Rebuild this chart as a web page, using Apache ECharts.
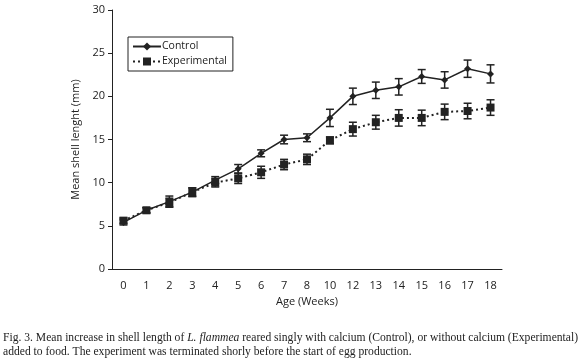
<!DOCTYPE html>
<html>
<head>
<meta charset="utf-8">
<script src="https://cdn.jsdelivr.net/npm/echarts@6/dist/echarts.min.js"></script>
<style>
  html, body { margin: 0; padding: 0; background: #fff; }
  #main { width: 580px; height: 361px; }
</style>
</head>
<body>
<div id="main"></div>
<script>
var weeks = ['0', '1', '2', '3', '4', '5', '6', '7', '8', '10', '12', '13', '14', '15', '16', '17', '18'];
var controlMean = [5.4, 6.8, 7.8, 8.9, 10.3, 11.6, 13.4, 15.0, 15.2, 17.5, 20.0, 20.7, 21.1, 22.3, 21.9, 23.2, 22.6];
var controlErr = [0.3, 0.3, 0.65, 0.5, 0.4, 0.5, 0.4, 0.5, 0.45, 1.0, 0.95, 0.95, 0.95, 0.8, 0.95, 1.0, 1.05];
var expMean = [5.6, 6.8, 7.7, 8.9, 10.0, 10.5, 11.2, 12.1, 12.7, 14.9, 16.2, 17.0, 17.5, 17.5, 18.2, 18.3, 18.7];
var expErr = [0.3, 0.3, 0.5, 0.5, 0.5, 0.6, 0.7, 0.6, 0.6, 0.4, 0.8, 0.8, 0.95, 0.9, 0.9, 0.9, 0.9];

var ink = '#222';

function errData(mean, err) {
    return mean.map(function (m, i) { return [i, m - err[i], m + err[i]]; });
}

function errRender(params, api) {
    var lo = api.coord([api.value(0), api.value(1)]);
    var hi = api.coord([api.value(0), api.value(2)]);
    var w = 4;
    var st = { stroke: ink, lineWidth: 1.5 };
    return {
        type: 'group',
        children: [
            { type: 'line', shape: { x1: lo[0], y1: lo[1], x2: hi[0], y2: hi[1] }, style: st },
            { type: 'line', shape: { x1: lo[0] - w, y1: lo[1], x2: lo[0] + w, y2: lo[1] }, style: st },
            { type: 'line', shape: { x1: hi[0] - w, y1: hi[1], x2: hi[0] + w, y2: hi[1] }, style: st }
        ]
    };
}

var myChart = echarts.init(document.getElementById('main'));

var option = {
    animation: false,
    textStyle: { fontFamily: 'Open Sans' },
    grid: { left: 112, right: 78, top: 10, bottom: 92 },
    legend: {
        orient: 'vertical',
        left: 128, top: 37,
        itemGap: 4,
        itemWidth: 28, itemHeight: 10,
        padding: [4, 6, 4, 4],
        borderColor: ink, borderWidth: 1,
        textStyle: { color: ink, fontSize: 10.5, padding: [0, 0, 0, -4] },
        data: ['Control', 'Experimental']
    },
    xAxis: {
        type: 'category',
        data: weeks,
        name: 'Age (Weeks)',
        nameLocation: 'middle',
        nameGap: 27,
        nameTextStyle: { color: ink, fontSize: 11 },
        axisLine: { lineStyle: { color: ink, width: 1 } },
        axisTick: { alignWithLabel: false, length: 4, lineStyle: { color: ink } },
        axisLabel: { color: ink, fontSize: 11, margin: 11 }
    },
    yAxis: {
        type: 'value',
        min: 0, max: 30, interval: 5,
        name: 'Mean shell lenght (mm)',
        nameLocation: 'middle',
        nameGap: 23,
        nameTextStyle: { color: ink, fontSize: 11 },
        splitLine: { show: false },
        axisLine: { show: true, lineStyle: { color: ink, width: 1 } },
        axisTick: { show: true, length: 4, lineStyle: { color: ink } },
        axisLabel: { color: ink, fontSize: 11, margin: 7 }
    },
    series: [
        {
            name: 'Control', type: 'line', data: controlMean,
            symbol: 'diamond', symbolSize: 7,
            itemStyle: { color: ink },
            lineStyle: { color: ink, width: 1.5 },
            z: 3
        },
        {
            name: 'Experimental', type: 'line', data: expMean,
            symbol: 'rect', symbolSize: 8,
            itemStyle: { color: ink },
            lineStyle: { color: ink, width: 2, type: [2, 3] },
            z: 3
        },
        { type: 'custom', renderItem: errRender, data: errData(controlMean, controlErr), z: 2, silent: true },
        { type: 'custom', renderItem: errRender, data: errData(expMean, expErr), z: 2, silent: true }
    ],
    graphic: [
        {
            type: 'text', left: 3, top: 331,
            style: {
                text: 'Fig. 3. Mean increase in shell length of {i|L. flammea} reared singly with calcium (Control), or without calcium (Experimental)\nadded to food. The experiment was terminated shorly before the start of egg production.',
                fontFamily: 'Liberation Serif', fontSize: 11.6, fill: ink, lineHeight: 14,
                rich: { i: { fontStyle: 'italic', fontFamily: 'Liberation Serif', fontSize: 11.6, fill: ink } }
            }
        }
    ]
};

myChart.setOption(option);
</script>
</body>
</html>
